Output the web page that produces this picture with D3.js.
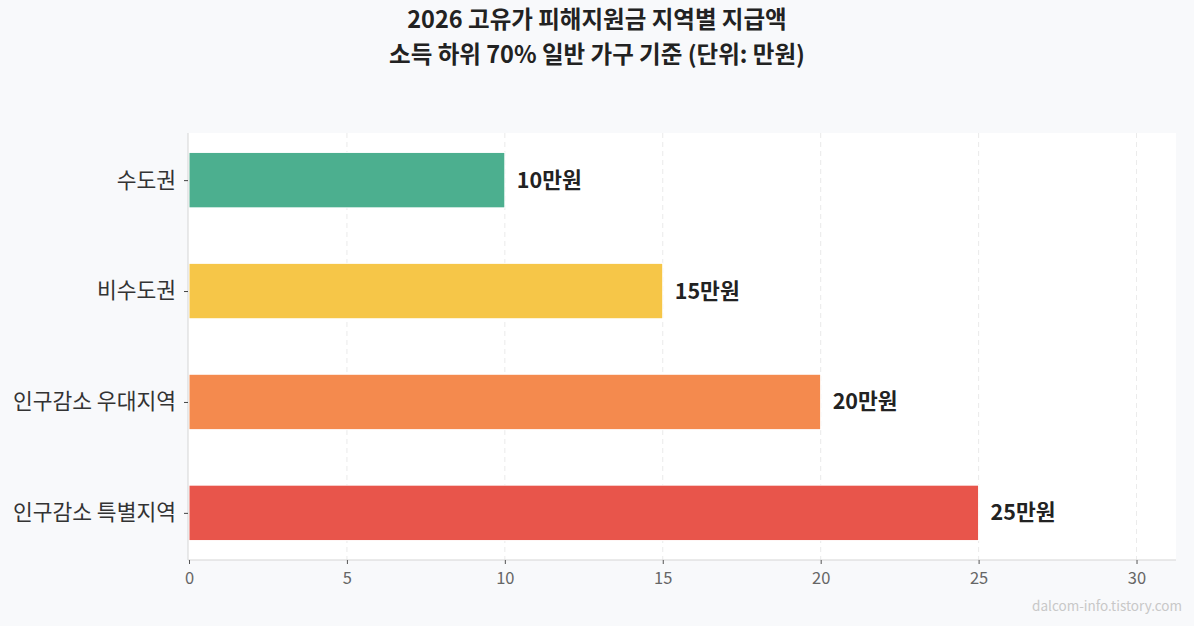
<!DOCTYPE html>
<html>
<head>
<meta charset="utf-8">
<script src="https://cdn.jsdelivr.net/npm/d3@7"></script>
<style>
  body { margin: 0; background: #f8f9fb; }
  svg { display: block; font-family: "Noto Sans CJK KR", "Noto Sans", sans-serif; }
</style>
</head>
<body>
<div id="container"></div>
<script>
/* DATA */
const regions = ["수도권", "비수도권", "인구감소 우대지역", "인구감소 특별지역"]
const amounts = [10, 15, 20, 25]
const barColors = ["#4caf8f", "#f6c648", "#f48a4e", "#e8554b"]
const xTicks = [0, 5, 10, 15, 20, 25, 30]
const titleLines = ["2026 고유가 피해지원금 지역별 지급액", "소득 하위 70% 일반 가구 기준 (단위: 만원)"]

/* CONSTANTS */
const width = 1194, height = 626
const margin = { top: 133, bottom: 66, left: 188, right: 18 }
const font = '"Noto Sans CJK KR", "Noto Sans", sans-serif'

const data = regions.map((r, i) => ({ region: r, value: amounts[i], color: barColors[i] }))

const svg = d3.select("#container")
  .append("svg")
  .attr("width", width)
  .attr("height", height)

svg.append("rect").attr("width", width).attr("height", height).attr("fill", "#f8f9fb")

// plot background
svg.append("rect")
  .attr("x", margin.left).attr("y", margin.top)
  .attr("width", width - margin.left - margin.right)
  .attr("height", height - margin.top - margin.bottom)
  .attr("fill", "#ffffff")

// SCALES
const xScale = d3.scaleLinear()
  .domain([0, d3.max(amounts) * 1.25])
  .range([margin.left + 1, width - margin.right])

// positions 0..3, bar height 0.5, small margins
const yPos = d3.scaleLinear()
  .domain([-0.425, regions.length - 1 + 0.425])
  .range([margin.top, height - margin.bottom])
const barH = yPos(0.5) - yPos(0)

// GRID
svg.append("g")
  .selectAll("line")
  .data(xTicks.filter(t => t > 0))
  .join("line")
  .attr("x1", d => xScale(d)).attr("x2", d => xScale(d))
  .attr("y1", margin.top).attr("y2", height - margin.bottom)
  .attr("stroke", "#e4e4e4")
  .attr("stroke-dasharray", "5,4")
  .attr("stroke-width", 0.8)

// BARS
svg.selectAll(".bar")
  .data(data)
  .join("rect")
  .attr("class", "bar")
  .attr("x", xScale(0))
  .attr("y", (d, i) => yPos(i) - barH / 2)
  .attr("width", d => xScale(d.value) - xScale(0))
  .attr("height", barH)
  .attr("fill", d => d.color)
  .attr("stroke", "#ffffff")
  .attr("stroke-width", 1)

// VALUE LABELS
svg.selectAll(".val")
  .data(data)
  .join("text")
  .attr("class", "val")
  .attr("x", d => xScale(d.value) + 12)
  .attr("y", (d, i) => yPos(i))
  .attr("dy", "0.35em")
  .attr("font-size", 21.5)
  .attr("font-weight", "bold")
  .attr("fill", "#222")
  .text(d => d.value + "만원")

// AXES
const xAxis = d3.axisBottom(xScale).tickValues(xTicks).tickSize(4).tickPadding(8)
const gx = svg.append("g")
  .attr("transform", `translate(0,${height - margin.bottom})`)
  .call(xAxis)
gx.select(".domain").attr("stroke", "#d5d5d5").attr("d", `M${margin.left},0H${width - margin.right}`)
gx.selectAll(".tick line").attr("stroke", "#555")
gx.selectAll(".tick text").attr("fill", "#666").attr("font-size", 16.5)
  .style("font-family", font)

const yAxis = d3.axisLeft(yPos).tickValues(d3.range(regions.length))
  .tickFormat(i => regions[i]).tickSize(4).tickPadding(8)
const gy = svg.append("g")
  .attr("transform", `translate(${margin.left},0)`)
  .call(yAxis)
gy.select(".domain").attr("stroke", "#d5d5d5").attr("d", `M0,${margin.top}V${height - margin.bottom}`)
gy.selectAll(".tick line").attr("stroke", "#444")
gy.selectAll(".tick text").attr("fill", "#333").attr("font-size", 21.5)
  .style("font-family", font)

// TITLE
svg.append("g")
  .selectAll("text")
  .data(titleLines)
  .join("text")
  .attr("x", width / 2)
  .attr("y", (d, i) => 28 + i * 34.5)
  .attr("text-anchor", "middle")
  .attr("font-size", 23.5)
  .attr("font-weight", "bold")
  .attr("fill", "#222")
  .text(d => d)

// WATERMARK
svg.append("text")
  .attr("x", width - 12)
  .attr("y", 611)
  .attr("text-anchor", "end")
  .attr("font-size", 13.5)
  .attr("fill", "#c8c8c8")
  .text("dalcom-info.tistory.com")
</script>
</body>
</html>
